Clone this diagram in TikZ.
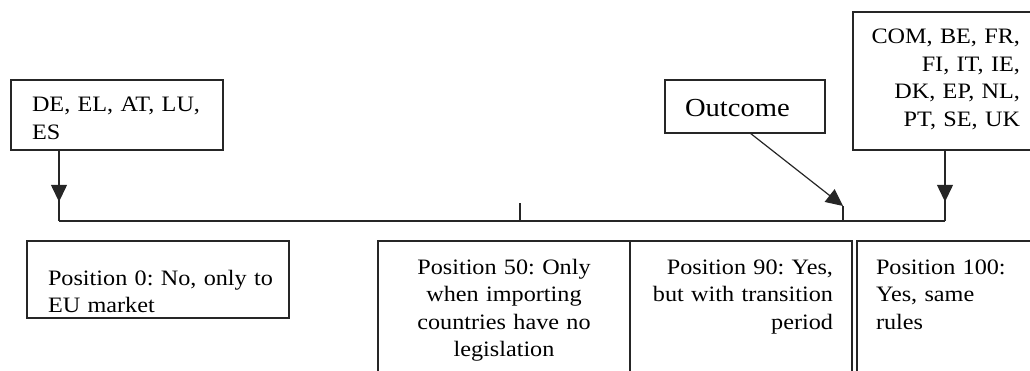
\documentclass[tikz,border=0pt]{standalone}
\usepackage{fontspec}
\setmainfont{Liberation Serif}[FakeStretch=1.1]
\frenchspacing
\usetikzlibrary{arrows.meta,decorations.markings}

\tikzset{
  posbox/.style={draw=black!85, line width=1.1pt, inner ysep=0pt, outer sep=0pt,
    anchor=north west, font=\fontsize{22}{27.5}\selectfont},
  axisline/.style={draw=black!85, line width=1.2pt},
  headtip/.style={-{Triangle[length=17pt,width=16pt]}},
  midtip/.style={postaction={decorate}, decoration={markings,
    mark=at position 0.73 with {\arrow{Triangle[length=17pt,width=16pt]}}}}
}

\begin{document}
\begin{tikzpicture}[x=1pt, y=-1pt]
  \clip (0,0) rectangle (1030,371) ;
  % actors
  \node[posbox, align=left, inner xsep=21pt, text width=170pt,
    text height=32pt, text depth=38pt] (grpzero) at (11,80) {DE, EL, AT, LU,\\ES} ;
  \node[posbox, align=left, inner xsep=20pt, text width=120pt,
    text height=37pt, text depth=16pt, font=\fontsize{26}{30}\selectfont] (outcome) at (665,80) {Outcome} ;
  \node[posbox, align=right, inner xsep=17pt, text width=150pt,
    text height=32pt, text depth=106pt] (grphundred) at (853,12) {COM, BE, FR,\\FI, IT, IE,\\DK, EP, NL,\\PT, SE, UK} ;
  % positions
  \node[posbox, align=left, inner xsep=21pt, text width=220pt,
    text height=44pt, text depth=33pt] (pos0) at (27,241) {Position~0:~No,~only~to\\EU market} ;
  \node[posbox, align=center, inner xsep=14pt, text width=224pt,
    text height=33pt, text depth=160pt] (pos50) at (378,241) {Position 50: Only\\when importing\\countries have no\\legislation} ;
  \node[posbox, align=right, inner xsep=19pt, text width=184pt,
    text height=33pt, text depth=160pt] (pos90) at (630,241) {Position 90: Yes,\\but with transition\\period} ;
  \node[posbox, align=left, inner xsep=19pt, text width=145pt,
    text height=33pt, text depth=160pt] (pos100) at (857,241) {Position 100:\\Yes, same\\rules} ;
  % axis
  \coordinate (tl0) at (59,221) ;
  \coordinate (tl50) at (520,221) ;
  \coordinate (tl90) at (843,221) ;
  \coordinate (tl100) at (945,221) ;
  \coordinate (tip90) at (843,206) ;
  \draw[axisline] (tl0) -- (tl100) ;
  \draw[axisline] (tl50) -- ++(0,-18) ;
  \draw[axisline] (tip90) -- (tl90) ;
  \draw[axisline, midtip] (grpzero.south -| tl0) -- (tl0) ;
  \draw[axisline, midtip] (grphundred.south -| tl100) -- (tl100) ;
  \draw[axisline, headtip] ([xshift=5pt]outcome.south) -- (tip90) ;
\end{tikzpicture}
\end{document}
